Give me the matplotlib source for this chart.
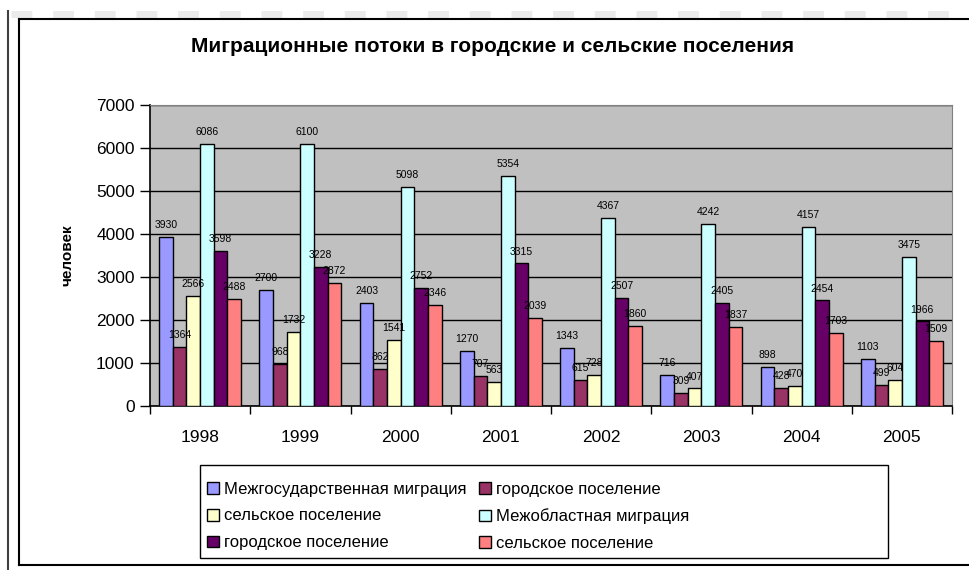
import numpy as np
import matplotlib.pyplot as plt
from matplotlib.lines import Line2D
from matplotlib.patches import Rectangle

plt.rcParams['font.family'] = ['Liberation Sans', 'DejaVu Sans']

years = ['1998', '1999', '2000', '2001', '2002', '2003', '2004', '2005']
names = ['Межгосударственная миграция', 'городское поселение', 'сельское поселение',
         'Межобластная миграция', 'городское поселение', 'сельское поселение']
interstate = [3930, 2700, 2403, 1270, 1343, 716, 898, 1103]
interstate_urban = [1364, 968, 862, 707, 615, 309, 428, 499]
interstate_rural = [2566, 1732, 1541, 563, 728, 407, 470, 604]
interregion = [6086, 6100, 5098, 5354, 4367, 4242, 4157, 3475]
interregion_urban = [3598, 3228, 2752, 3315, 2507, 2405, 2454, 1966]
interregion_rural = [2488, 2872, 2346, 2039, 1860, 1837, 1703, 1509]
series = [interstate, interstate_urban, interstate_rural,
          interregion, interregion_urban, interregion_rural]
colors = ['#9999FF', '#993366', '#FFFFCC', '#CCFFFF', '#660066', '#FF8080']

fig = plt.figure(figsize=(9.69, 5.70), dpi=100)
ax = fig.add_axes([150/969, 1-406/570, 802/969, 301/570])
ax.set_facecolor('#C0C0C0')

x = np.arange(len(years))
w = 0.136
bars = []
for i, vals in enumerate(series):
    b = ax.bar(x + (i - 2.5)*w, vals, w, color=colors[i], edgecolor='black',
               linewidth=1, zorder=3)
    bars.append(b)
    for xi, v in zip(x + (i - 2.5)*w, vals):
        ax.annotate(str(v), (xi, v), xytext=(0, 5), textcoords='offset points',
                    ha='center', va='bottom', fontsize=7.5, zorder=4)

ax.set_xlim(-0.5, len(years) - 0.5)
ax.set_ylim(0, 7000)
ax.set_yticks(range(0, 7001, 1000))
ax.yaxis.grid(True, color='black', linewidth=1, zorder=0)
ax.set_axisbelow(True)
ax.set_xticks(np.arange(-0.5, len(years)), [''] * (len(years) + 1))
ax.set_xticks(x, years, minor=True)
ax.tick_params(axis='x', which='major', length=6, direction='out', width=1)
ax.tick_params(axis='x', which='minor', length=0, pad=17, labelsize=12.5)
ax.tick_params(axis='y', length=7, width=1, labelsize=12.5, pad=4)
for s in ['top', 'right']:
    ax.spines[s].set_color('#808080')
ax.spines['left'].set_linewidth(1.2)
ax.spines['bottom'].set_linewidth(1.2)
ax.set_ylabel('человек', fontweight='bold', fontsize=11, labelpad=16)

fig.text(493/969, 1-46/570, 'Миграционные потоки в городские и сельские поселения',
         ha='center', va='center', fontsize=15, fontweight='bold')

# legend box drawn separately, entries placed inside it
fig.add_artist(Rectangle((200/969, 1-558/570), 688/969, 93/570, transform=fig.transFigure,
                         fill=False, edgecolor='black', lw=1))
order = [0, 2, 4, 1, 3, 5]
leg = fig.legend([bars[k] for k in order], [names[k] for k in order], ncol=2,
                 loc='upper left', bbox_to_anchor=(191/969, 1-466/570),
                 frameon=False, fontsize=12,
                 handlelength=0.7, handleheight=0.7, handletextpad=0.3,
                 columnspacing=0.8, labelspacing=0.7, borderpad=0.45)

# outer frame of the chart
fig.add_artist(Line2D([8/969, 8/969], [0, 1-11/570], color='#404040', lw=1.5))
fig.add_artist(Line2D([11/969, 1], [1-14/570, 1-14/570], color='#EBEBEB', lw=5, ls=(0, (3, 3))))
fig.add_artist(Line2D([19/969, 19/969], [1-565/570, 1-19/570], color='black', lw=1.5))
fig.add_artist(Line2D([19/969, 1], [1-19/570, 1-19/570], color='black', lw=1.5))
fig.add_artist(Line2D([19/969, 1], [1-565/570, 1-565/570], color='black', lw=1.5))

fig.savefig('out.png', dpi=100)
